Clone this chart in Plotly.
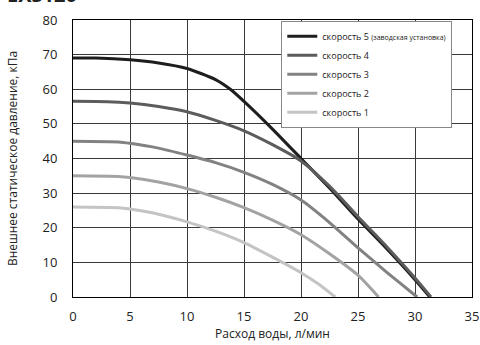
import plotly.graph_objects as go

# flow, l/min  and static pressure, kPa
x_s5 = [0, 2, 5, 7.5, 10, 12.5, 13.8, 15, 17.5, 20, 22.5, 25, 27.5, 30, 31.3]
y_s5 = [69, 69, 68.5, 67.6, 66, 62.8, 60, 56.5, 48.5, 40, 31.5, 22.5, 14, 5, 0]

x_s4 = [0, 3, 5, 7.5, 10, 12.5, 15, 17.5, 20, 22.5, 25, 27.5, 30, 31.4]
y_s4 = [56.5, 56.4, 56, 55, 53.5, 51, 48, 44, 39.3, 32, 23.2, 14.6, 5.5, 0]

x_s3 = [0, 4, 5, 7.5, 10, 12.5, 15, 17.5, 20, 22.5, 25, 27.5, 30, 30.2]
y_s3 = [45, 44.8, 44.4, 43, 41, 38.8, 36, 32.5, 28, 21.5, 14.2, 7.2, 0.5, 0]

x_s2 = [0, 4, 5, 7.5, 10, 12.5, 15, 17.5, 20, 22.5, 25, 26.8]
y_s2 = [35, 34.8, 34.5, 33.2, 31.3, 28.8, 25.8, 22.2, 18, 12.5, 6.3, 0]

x_s1 = [0, 4, 5, 7.5, 10, 12.5, 15, 17.5, 20, 21.5, 23]
y_s1 = [26, 25.8, 25.4, 23.9, 21.7, 19, 15.7, 11.5, 7, 3.8, 0]

series = [
    ("скорость 5 <span style='font-size:7px'>(заводская установка)</span>", x_s5, y_s5, "#1e1e1e"),
    ("скорость 4", x_s4, y_s4, "#5c5c5c"),
    ("скорость 3", x_s3, y_s3, "#828282"),
    ("скорость 2", x_s2, y_s2, "#a3a3a3"),
    ("скорость 1", x_s1, y_s1, "#c4c4c4"),
]

_FONT = "Open Sans, sans-serif"
_GRID = "#3a3a3a"

fig = go.Figure()
for name, xs, ys, color in series:
    fig.add_trace(go.Scatter(
        x=xs, y=ys, mode="lines", name=name,
        line=dict(color=color, width=3, shape="spline", smoothing=0.6),
    ))

# header cut off by the top edge in the source image
fig.add_annotation(
    text="<b>EXS120</b>", xref="paper", yref="paper",
    x=-0.17, y=1.035, xanchor="left", yanchor="bottom",
    showarrow=False, font=dict(size=20, color="#222", family=_FONT),
)

fig.update_layout(
    width=480, height=345,
    margin=dict(l=73, r=8, t=20, b=48, autoexpand=False),
    paper_bgcolor="white", plot_bgcolor="white",
    font=dict(family=_FONT, color="#222"),
    showlegend=True,
    legend=dict(
        x=0.522, y=0.997, xanchor="left", yanchor="top",
        bgcolor="white", bordercolor="#888", borderwidth=1,
        font=dict(size=9, family=_FONT, color="#222"),
        tracegroupgap=0,
    ),
)
fig.update_xaxes(
    range=[0, 35], dtick=5, tick0=0, automargin=False,
    showgrid=True, gridcolor=_GRID, gridwidth=1,
    showline=True, linecolor="black", linewidth=1, mirror=True,
    zeroline=False, ticks="", ticklabelstandoff=7,
    tickfont=dict(size=13),
    title=dict(text="Расход воды, л/мин", font=dict(size=12), standoff=3),
)
fig.update_yaxes(
    range=[0, 80], dtick=10, tick0=0, automargin=False,
    showgrid=True, gridcolor=_GRID, gridwidth=1,
    showline=True, linecolor="black", linewidth=1, mirror=True,
    zeroline=False, ticks="", ticklabelstandoff=12,
    tickfont=dict(size=13),
    title=dict(text="Внешнее статическое давление, кПа", font=dict(size=12), standoff=22),
)

fig.write_html(
    "out.html",
    config={"displayModeBar": False},
    post_script="document.body.style.margin='0';",
)
